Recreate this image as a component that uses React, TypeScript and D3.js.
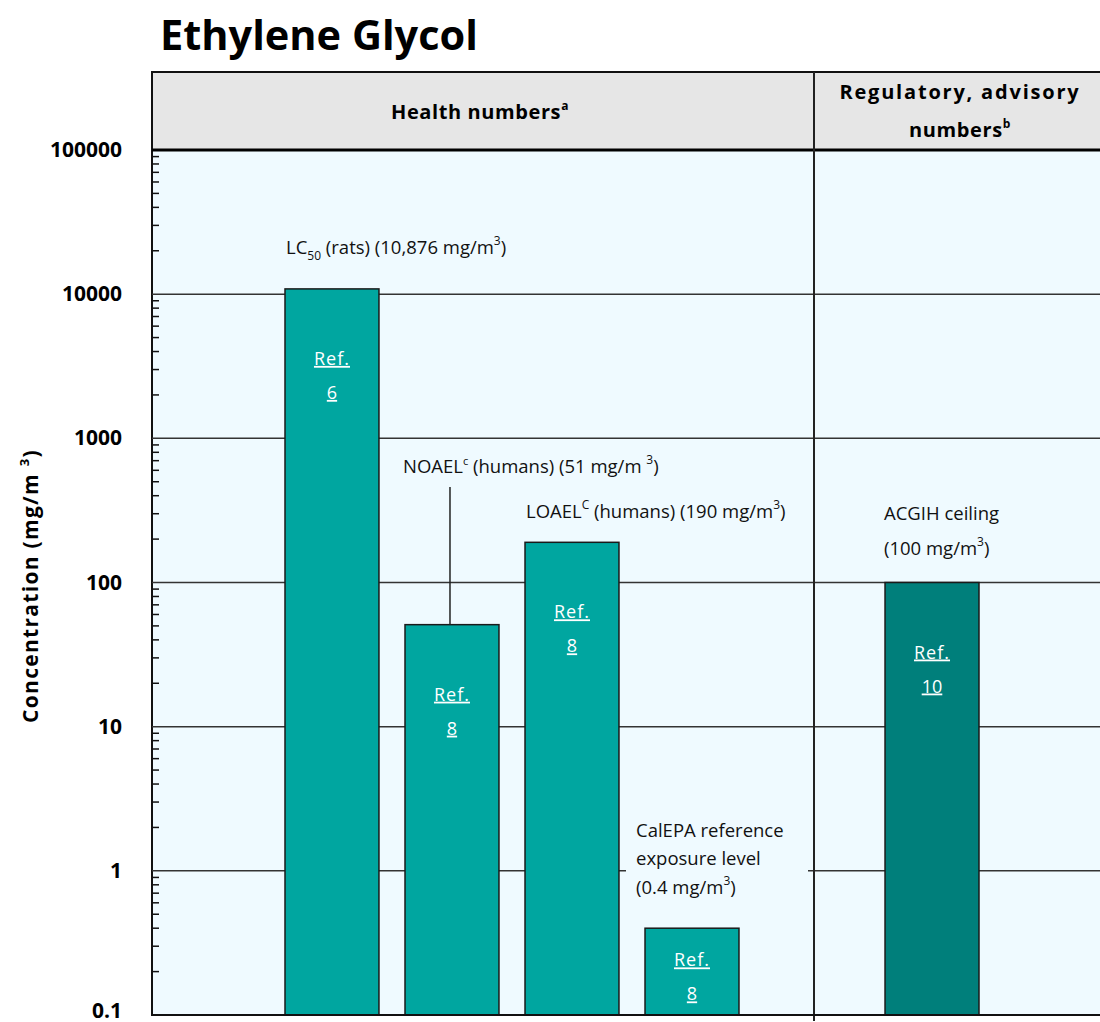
import React from "react";
import * as d3 from "d3";

const categories = ["LC50", "NOAEL", "LOAEL", "CalEPA", "ACGIH"];
const values = [10876, 51, 190, 0.4, 100];
const refs = ["6", "8", "8", "8", "10"];
const groups = ["health", "health", "health", "health", "regulatory"];
const slots = ["LC50", "NOAEL", "LOAEL", "CalEPA", "gap", "ACGIH", "end"];
const yTicks = [0.1, 1, 10, 100, 1000, 10000, 100000];
const tickLabels = ["0.1", "1", "10", "100", "1000", "10000", "100000"];

const W = 1100;
const H = 1022;
const left = 152;
const top = 150;
const bottom = 1015;
const headerTop = 72;
const divider = 814;
const right = 1110;

const font = "'Open Sans', 'DejaVu Sans', sans-serif";
const plotBg = "#effaff";

export default function App() {
  const y = d3.scaleLog().domain([0.1, 100000]).range([bottom, top]);
  const x = d3
    .scaleBand<string>()
    .domain(slots)
    .range([285, 1099])
    .paddingInner(0.217)
    .paddingOuter(0);

  const minor: number[] = [];
  for (let e = -1; e < 5; e++) {
    for (let k = 2; k <= 9; k++) minor.push(k * Math.pow(10, e));
  }

  const barColor = (i: number) => (groups[i] === "regulatory" ? "#007f7b" : "#00a6a0");
  const annSize = 18.5;
  const supSize = 12;

  return (
    <svg width={W} height={H} style={{ position: "absolute", left: 0, top: 0, background: "#fff" }}>
      {/* title */}
      <text x={160} y={50} fontFamily={font} fontWeight={700} fontSize={41.5} fill="#000">
        Ethylene Glycol
      </text>
      {/* header */}
      <rect x={left} y={headerTop} width={right - left} height={top - headerTop} fill="#e6e6e6" stroke="#111" strokeWidth={2} />
      {/* plot background */}
      <rect x={left} y={top} width={right - left} height={bottom - top} fill={plotBg} stroke="#111" strokeWidth={2} />
      <line x1={left} x2={right} y1={top} y2={top} stroke="#000" strokeWidth={3} />
      {/* header text */}
      <text x={480} y={119} textAnchor="middle" fontFamily={font} fontWeight={700} fontSize={20} letterSpacing={0.6}>
        Health numbers<tspan fontSize={12} dy={-9}>a</tspan>
      </text>
      <text x={960} y={99} textAnchor="middle" fontFamily={font} fontWeight={700} fontSize={20} letterSpacing={1.8}>
        Regulatory, advisory
      </text>
      <text x={960} y={137} textAnchor="middle" fontFamily={font} fontWeight={700} fontSize={20} letterSpacing={0.6}>
        numbers<tspan fontSize={12} dy={-9}>b</tspan>
      </text>
      {/* gridlines */}
      {yTicks.slice(1, -1).map((t) => (
        <line key={"g" + t} x1={left} x2={right} y1={y(t)} y2={y(t)} stroke="#333" strokeWidth={1.5} />
      ))}
      {/* divider */}
      <line x1={divider} x2={divider} y1={headerTop} y2={bottom + 6} stroke="#222" strokeWidth={2} />
      {/* minor ticks */}
      {minor.map((t) => (
        <line key={"m" + t} x1={left} x2={left + 7} y1={y(t)} y2={y(t)} stroke="#111" strokeWidth={1.5} />
      ))}
      {/* tick labels */}
      {yTicks.map((t, i) => (
        <text key={"t" + t} x={122} y={Math.min(y(t) + 7, 1018)} textAnchor="end" fontFamily={font} fontWeight={700} fontSize={21}>
          {tickLabels[i]}
        </text>
      ))}
      {/* axis title */}
      <text
        transform={`translate(38,${586}) rotate(-90)`}
        textAnchor="middle"
        fontFamily={font}
        fontWeight={700}
        fontSize={21}
        letterSpacing={1.3}
      >
        Concentration (mg/m <tspan fontSize={13} dy={-9}>3</tspan>
        <tspan dy={9}>)</tspan>
      </text>
      {/* bars */}
      {categories.map((c, i) => {
        const bx = x(c)!;
        const bw = x.bandwidth();
        const by = y(values[i]);
        const h = bottom - by;
        const off = Math.min(76, h * 0.44);
        return (
          <g key={c}>
            <rect x={bx} y={by} width={bw} height={h} fill={barColor(i)} stroke="#1a1a1a" strokeWidth={1.5} />
            <text x={bx + bw / 2} y={by + off} textAnchor="middle" fontFamily={font} fontSize={18} letterSpacing={1} fill="#fff" textDecoration="underline">
              Ref.
            </text>
            <text x={bx + bw / 2} y={by + off + 34} textAnchor="middle" fontFamily={font} fontSize={18} fill="#fff" textDecoration="underline">
              {refs[i]}
            </text>
          </g>
        );
      })}
      {/* NOAEL leader line */}
      <line x1={x("NOAEL")! + x.bandwidth() / 2 - 2} x2={x("NOAEL")! + x.bandwidth() / 2 - 2} y1={487} y2={y(values[1])} stroke="#222" strokeWidth={1.5} />
      {/* annotations */}
      <text x={x("LC50")! + 1} y={254} fontFamily={font} fontSize={annSize} fill="#111">
        LC<tspan fontSize={supSize} dy={6}>50</tspan>
        <tspan dy={-6}> (rats) (10,876 mg/m</tspan>
        <tspan fontSize={supSize} dy={-9}>3</tspan>
        <tspan dy={9}>)</tspan>
      </text>
      <text x={403} y={473} fontFamily={font} fontSize={annSize} fill="#111">
        NOAEL<tspan fontSize={supSize - 1} dy={-8}>c</tspan>
        <tspan dy={8}> (humans) (51 mg/m </tspan>
        <tspan fontSize={supSize} dy={-9}>3</tspan>
        <tspan dy={9}>)</tspan>
      </text>
      <text x={x("LOAEL")! + 1} y={518} fontFamily={font} fontSize={annSize} fill="#111">
        LOAEL<tspan fontSize={supSize} dy={-9}>C</tspan>
        <tspan dy={9}> (humans) (190 mg/m</tspan>
        <tspan fontSize={supSize} dy={-9}>3</tspan>
        <tspan dy={9}>)</tspan>
      </text>
      <rect x={626} y={815} width={182} height={88} fill={plotBg} />
      <text x={636} y={837} fontFamily={font} fontSize={annSize} fill="#111">
        CalEPA reference
      </text>
      <text x={636} y={865} fontFamily={font} fontSize={annSize} fill="#111">
        exposure level
      </text>
      <text x={636} y={894} fontFamily={font} fontSize={annSize} fill="#111">
        (0.4 mg/m<tspan fontSize={supSize} dy={-9}>3</tspan>
        <tspan dy={9}>)</tspan>
      </text>
      <text x={884} y={520} fontFamily={font} fontSize={annSize} fill="#111">
        ACGIH ceiling
      </text>
      <text x={884} y={555} fontFamily={font} fontSize={annSize} fill="#111">
        (100 mg/m<tspan fontSize={supSize} dy={-9}>3</tspan>
        <tspan dy={9}>)</tspan>
      </text>
      {/* bottom line */}
      <line x1={left} x2={right} y1={bottom} y2={bottom} stroke="#111" strokeWidth={2} />
    </svg>
  );
}
